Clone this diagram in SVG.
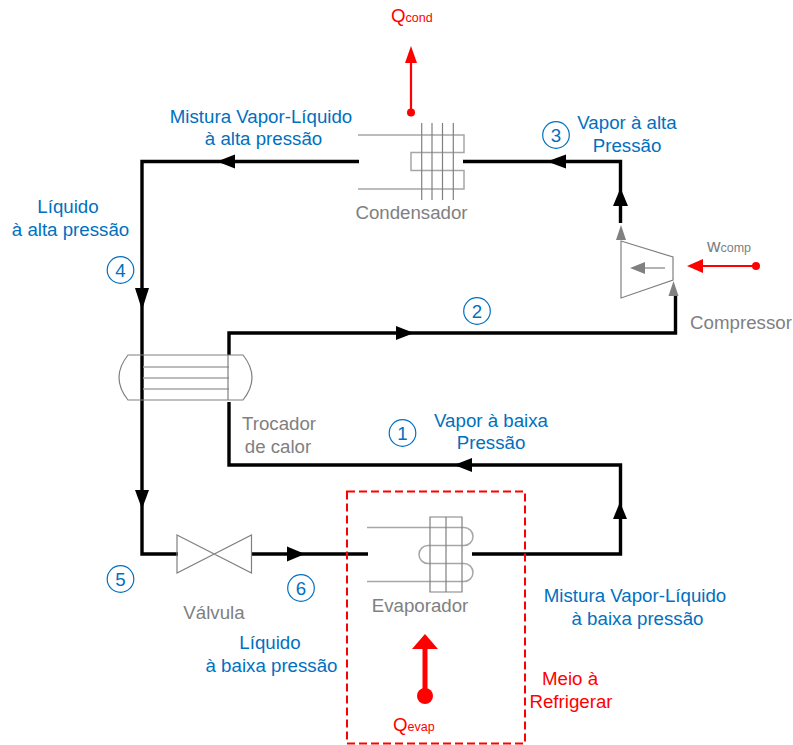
<svg xmlns="http://www.w3.org/2000/svg" width="793" height="745" viewBox="0 0 793 745">
<style>
text{font-family:"Liberation Sans",Arial,sans-serif;font-size:18.7px}
.b{fill:#0070c0;text-anchor:middle}
.g{fill:#808080;text-anchor:middle}
.r{fill:#ff0000;text-anchor:middle}
.n{fill:none;stroke:#0070c0;stroke-width:1.2}
.p{fill:none;stroke:#000;stroke-width:3.4;stroke-linejoin:miter}
.e{fill:none;stroke:#a6a6a6;stroke-width:1.5}
.e2{fill:none;stroke:#808080;stroke-width:1.2}
.k{fill:#000}
.ga{fill:#808080}
.ra{fill:#ff0000}
.sub{font-size:12.5px}
</style>
<rect width="793" height="745" fill="#fff"/>
<g id="connectors">
<path class="p" d="M359 161.5H142V554H178"/>
<path class="p" d="M463 161.5H620.5V223"/>
<path class="p" d="M229 355V333H675.5V296"/>
<path class="p" d="M229 402V465H620.5V554H472"/>
<path class="p" d="M251 554H368"/>
<polygon class="k" points="547,161.5 566,154.5 566,168.5"/>
<polygon class="k" points="620.5,188 613,206 628,206"/>
<polygon class="k" points="217,161.5 235,154.5 235,168.5"/>
<polygon class="k" points="142,310 135,288 149,288"/>
<polygon class="k" points="142,509 135,490 149,490"/>
<polygon class="k" points="414,333 396,326 396,340"/>
<polygon class="k" points="454,465 472,458 472,472"/>
<polygon class="k" points="620,502 613,519 627,519"/>
<polygon class="k" points="305,554 287,546.5 287,561.5"/>
</g>
<g id="condensador">
<path class="e" d="M358 135H464V152.500H411V170.500H464V189H358"/>
<path class="e2" d="M421.700 123V200M432 123V200M442.500 123V200M453.300 123V200"/>
<text class="g" x="411.500" y="219">Condensador</text>
</g>
<g id="compressor">
<path class="e2" d="M621 241V298L673 280V257Z"/>
<path class="e2" d="M665 268H640"/>
<polygon class="ga" points="630,268 645,262 645,274"/>
<polygon class="ga" points="621,225 616,240 626,240"/>
<polygon class="ga" points="673.500,281 668.500,296 678.500,296"/>
<text class="g" x="741" y="329">Compressor</text>
</g>
<g id="trocador">
<path class="e2" d="M128 355H243C255 370 255 385 243 400H128C116 385 116 370 128 355Z"/>
<path class="e" d="M143 367H229M143 378H229M143 389H229"/>
<path class="e2" d="M228 355V400"/>
<text class="g" x="279" y="430">Trocador</text>
<text class="g" x="278" y="453">de calor</text>
</g>
<g id="valvula">
<path class="e2" d="M177 535L251.500 573V535L177 573Z"/>
<text class="g" x="214" y="619">Válvula</text>
</g>
<g id="evaporador">
<path class="e" d="M367 527.500H464A9 9 0 0 1 464 545.500H428A9 9 0 0 0 428 563.500H464A9 9 0 0 1 464 581.500H367"/>
<path class="e2" d="M430 517H462V592H430ZM446 517V592"/>
<text class="g" x="420" y="612">Evaporador</text>
</g>
<g id="meio">
<rect x="347" y="491.500" width="178" height="252" fill="none" stroke="#ff0000" stroke-width="2" stroke-dasharray="8 4"/>
<text class="r" x="570" y="685">Meio à</text>
<text class="r" x="571" y="708">Refrigerar</text>
</g>
<g id="qcond">
<path d="M411 112V62" stroke="#ff0000" stroke-width="2.2" fill="none"/>
<polygon class="ra" points="411,46 405,63 417,63"/>
<circle class="ra" cx="411" cy="112.500" r="4"/>
<text x="391" y="22" fill="#ff0000">Q<tspan class="sub">cond</tspan></text>
</g>
<g id="wcomp">
<path d="M755 266H702" stroke="#ff0000" stroke-width="2" fill="none"/>
<polygon class="ra" points="687,266 703,259 703,273"/>
<circle class="ra" cx="756" cy="266" r="4"/>
<text x="707" y="252" fill="#808080">w<tspan class="sub">comp</tspan></text>
</g>
<g id="qevap">
<path d="M425 695V648" stroke="#ff0000" stroke-width="5" fill="none"/>
<polygon class="ra" points="425,634 412,649 438,649"/>
<circle class="ra" cx="425" cy="696" r="8"/>
<text x="393" y="731" fill="#ff0000">Q<tspan class="sub">evap</tspan></text>
</g>
<g id="labels">
<text class="b" x="261" y="123">Mistura Vapor-Líquido</text>
<text class="b" x="263.500" y="145">à alta pressão</text>
<text class="b" x="68" y="213">Líquido</text>
<text class="b" x="70.500" y="236">à alta pressão</text>
<text class="b" x="627" y="129">Vapor à alta</text>
<text class="b" x="627" y="152">Pressão</text>
<text class="b" x="491" y="427">Vapor à baixa</text>
<text class="b" x="491" y="449">Pressão</text>
<text class="b" x="635" y="602">Mistura Vapor-Líquido</text>
<text class="b" x="637.500" y="625">à baixa pressão</text>
<text class="b" x="270" y="649">Líquido</text>
<text class="b" x="271.500" y="672">à baixa pressão</text>
</g>
<g id="n1"><circle class="n" cx="402.500" cy="433" r="13.300"/><text class="b" x="402.500" y="439.500">1</text></g>
<g id="n2"><circle class="n" cx="477" cy="311" r="13.300"/><text class="b" x="477" y="317.500">2</text></g>
<g id="n3"><circle class="n" cx="556" cy="135" r="13.300"/><text class="b" x="556" y="141.500">3</text></g>
<g id="n4"><circle class="n" cx="120.500" cy="270" r="13.300"/><text class="b" x="120.500" y="276.500">4</text></g>
<g id="n5"><circle class="n" cx="120.500" cy="579" r="13.300"/><text class="b" x="120.500" y="585.500">5</text></g>
<g id="n6"><circle class="n" cx="301" cy="588" r="13.300"/><text class="b" x="301" y="594.500">6</text></g>
</svg>
